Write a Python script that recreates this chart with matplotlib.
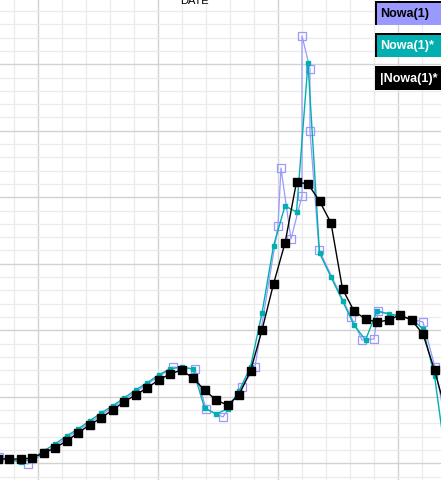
import numpy as np
import matplotlib.pyplot as plt
from matplotlib.ticker import MultipleLocator
from matplotlib.patches import Rectangle

# series sampled on a regular step (index), values in chart units
idx = np.arange(-1, 39)

black_vals = [3.2, 3.2, 3.2, 4.0, 7.7, 11.5, 16.8, 22.8, 28.8, 34.1,
              40.1, 46.1, 51.4, 56.6, 62.6, 67.1, 70.1, 64.1, 55.1, 47.6,
              43.8, 51.4, 69.4, 100.2, 134.8, 165.6, 211.5, 210.0, 197.2, 180.7,
              131.1, 114.5, 108.5, 106.2, 107.7, 111.5, 107.7, 97.2, 70.1, 38.6]

teal_vals = [4.0, 3.2, 1.0, 3.2, 9.2, 14.5, 20.5, 25.8, 31.8, 37.8,
             43.1, 49.1, 55.1, 60.4, 66.4, 70.9, 72.4, 70.9, 41.6, 37.1,
             40.8, 54.4, 72.4, 113.0, 163.4, 193.5, 189.0, 301.0, 158.1, 140.1,
             122.1, 104.0, 92.7, 114.5, 112.3, 110.8, 108.5, 101.0, 65.8, 2.5]

# the first series has irregular sample positions
purple_x = [-0.9, 1.65, 14.26, 16.17, 17.13, 18.61, 20.26, 21.39, 23.39, 23.65,
            24.52, 25.48, 25.48, 26.17, 26.17, 26.96, 29.74, 30.70, 31.74, 32.09,
            36.0, 37.04, 38.09]
purple_vals = [4.7, -0.5, 72.4, 70.9, 40.8, 34.8, 57.4, 72.4, 178.4, 222.0,
               168.6, 201.0, 321.4, 296.5, 249.9, 160.4, 110.1, 92.7, 93.5, 114.5,
               106.2, 72.4, 25.0]

legend_labels = ['Nowa(1)', 'Nowa(1)*', '|Nowa(1)*']
title_text = 'DATE'

PURPLE = '#9999ff'
TEAL = '#00b0b0'

W, H = 441, 480
fig = plt.figure(figsize=(W / 100, H / 100), dpi=100)
ax = fig.add_axes([0, 0, 1, 1])

ax.set_xlim(-9 / 11.5, (W - 9) / 11.5)
ax.set_ylim((463.3 - H) / 1.33, 463.3 / 1.33)

# grid
ax.xaxis.set_major_locator(MultipleLocator(120 / 11.5, offset=(38.3 - 9) / 11.5))
ax.xaxis.set_minor_locator(MultipleLocator(24 / 11.5, offset=(14.3 - 9) / 11.5))
ax.yaxis.set_major_locator(MultipleLocator(50))
ax.yaxis.set_minor_locator(MultipleLocator(10))
ax.grid(which='minor', color='#ebebeb', linewidth=0.9)
ax.grid(which='major', color='#d2d2d2', linewidth=1.0)
ax.set_axisbelow(True)
ax.tick_params(which='both', length=0, labelbottom=False, labelleft=False)
for s in ax.spines.values():
    s.set_visible(False)

ax.plot(purple_x, purple_vals, color=PURPLE, linewidth=0.9, marker='s',
        markersize=6, markerfacecolor='none', markeredgecolor=PURPLE,
        markeredgewidth=0.9, zorder=2)
ax.plot(idx, teal_vals, color=TEAL, linewidth=1.0, marker='s',
        markersize=3, markerfacecolor=TEAL, markeredgecolor=TEAL, zorder=3)
ax.plot(idx, black_vals, color='black', linewidth=1.0, marker='s',
        markersize=6, markerfacecolor='black', markeredgecolor='black', zorder=4)

# title, cut off at the top
fig.text(194 / W, 1 - 4 / H, title_text, ha='center', va='baseline',
         fontsize=8, family='Liberation Sans', color='black')

# legend boxes at top right
box_fill = [PURPLE, TEAL, 'black']
box_text = ['black', 'white', 'white']
box_top = [1, 33, 66]
for lab, fc, tc, top in zip(legend_labels, box_fill, box_text, box_top):
    fig.patches.append(Rectangle((375 / W, 1 - (top + 24) / H), 70 / W, 24 / H,
                                 transform=fig.transFigure, facecolor='black',
                                 edgecolor='none'))
    fig.patches.append(Rectangle((377 / W, 1 - (top + 24) / H), 70 / W, 22 / H,
                                 transform=fig.transFigure, facecolor=fc,
                                 edgecolor='none'))
    fig.text(380 / W, 1 - (top + 13) / H, lab, ha='left', va='center',
             fontsize=9, fontweight='bold', family='Liberation Sans', color=tc)

fig.savefig('out.png', dpi=100)
